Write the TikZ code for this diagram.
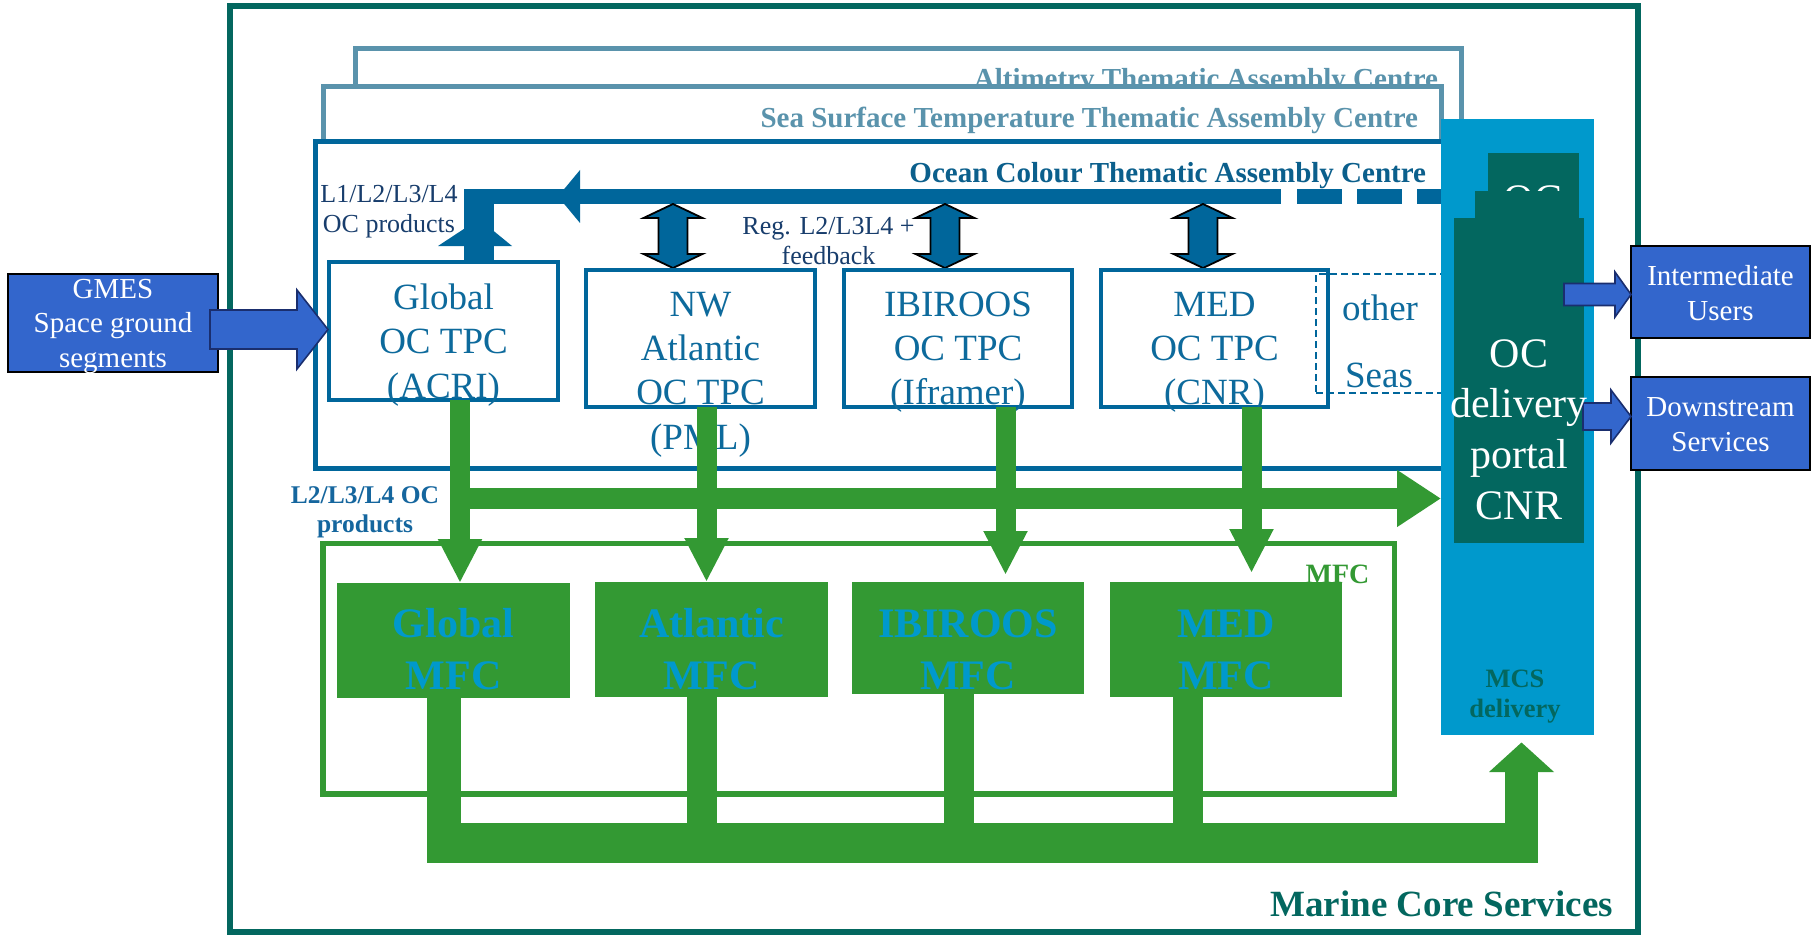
\documentclass[tikz,border=0pt]{standalone}
\usepackage{fontspec}
\setmainfont{Liberation Serif}
\usetikzlibrary{arrows.meta,calc}

\definecolor{mcsteal}{HTML}{03675F}
\definecolor{tacgrey}{HTML}{5A93AC}
\definecolor{ocblue}{HTML}{00669B}
\definecolor{octitle}{HTML}{0B5F8C}
\definecolor{tpctext}{HTML}{0D6A9C}
\definecolor{navytext}{HTML}{183D6C}
\definecolor{prodtext}{HTML}{15669E}
\definecolor{mfcgreen}{HTML}{339933}
\definecolor{mcscyan}{HTML}{0099CC}
\definecolor{royal}{HTML}{3366CC}
\definecolor{arrowedge}{HTML}{1A2E6E}

% centred stack of lines whose baseline is the first line
\newcommand\stk[1]{\begin{tabular}[t]{@{}c@{}}#1\end{tabular}}

% right-pointing block arrow: style, start, tip, shaft half-width, head half-width, head length
\newcommand\rblock[6]{%
  \path[#1] let \p1=#2, \p2=#3 in
    (\x1,{\y1+#4}) -- ({\x2-#6},{\y1+#4}) -- ({\x2-#6},{\y1+#5}) -- (\x2,\y1)
    -- ({\x2-#6},{\y1-#5}) -- ({\x2-#6},{\y1-#4}) -- (\x1,{\y1-#4}) -- cycle;}

% vertical double-headed block arrow: top, bottom, shaft half-width, head half-width, head length
\newcommand\vdouble[5]{%
  \path[dblarrow] let \p1=#1, \p2=#2 in
    (\x1,\y1) -- ({\x1+#4},{\y1-#5}) -- ({\x1+#3},{\y1-#5}) -- ({\x1+#3},{\y2+#5})
    -- ({\x1+#4},{\y2+#5}) -- (\x1,\y2) -- ({\x1-#4},{\y2+#5}) -- ({\x1-#3},{\y2+#5})
    -- ({\x1-#3},{\y1-#5}) -- ({\x1-#4},{\y1-#5}) -- cycle;}

\begin{document}
\begin{tikzpicture}[x=1pt,y=-1pt,
  txt/.style={inner sep=0pt, outer sep=0pt, anchor=base},
  titletxt/.style={txt, anchor=base east, font=\fontsize{29}{34}\selectfont\bfseries},
  tpcbox/.style={draw=ocblue, line width=4.5pt, fill=white, inner sep=0pt, outer sep=0pt},
  tpclabel/.style={txt, text=tpctext, font=\fontsize{37}{44.5}\selectfont},
  smalllabel/.style={txt, text=navytext, font=\fontsize{26}{30}\selectfont},
  mfcbox/.style={fill=mfcgreen, inner sep=0pt, outer sep=0pt},
  mfclabel/.style={txt, text=mcscyan, font=\fontsize{42}{52}\selectfont\bfseries},
  userbox/.style={fill=royal, draw=black, line width=2.5pt, inner sep=0pt, outer sep=0pt},
  userlabel/.style={txt, text=white, font=\fontsize{29}{35.5}\selectfont},
  greenarrow/.style={draw=mfcgreen, line width=20pt, -{Triangle[width=41pt,length=44pt]}},
  dblarrow/.style={fill=ocblue, draw=black, line width=1.8pt, line join=miter},
  userarrow/.style={fill=royal, draw=arrowedge, line width=1.6pt},
  portal/.style={fill=mcsteal, inner sep=0pt, outer sep=0pt}]

\useasboundingbox (0,0) rectangle (1815,936);

% Marine Core Services frame
\node[draw=mcsteal, line width=6pt, inner sep=0pt, minimum width=1408.5pt, minimum height=926pt] (mcsframe) at (933.75,469) {};
\node[txt, anchor=base east, text=mcsteal, font=\fontsize{37}{44}\selectfont\bfseries] (mcstitle) at (1613,916) {Marine Core Services};

% stacked thematic assembly centres
\node[draw=tacgrey, line width=5pt, fill=white, inner sep=0pt, minimum width=1106pt, minimum height=251pt] (alti) at (908.5,174.5) {};
\node[titletxt, text=tacgrey] (altititle) at (1438,89) {Altimetry Thematic Assembly Centre};
\node[draw=tacgrey, line width=5pt, fill=white, inner sep=0pt, minimum width=1118.5pt, minimum height=213pt] (sst) at (882.25,193.5) {};
\node[titletxt, text=tacgrey] (ssttitle) at (1418,128) {Sea Surface Temperature Thematic Assembly Centre};
\node[draw=ocblue, line width=5pt, fill=white, inner sep=0pt, minimum width=1204.5pt, minimum height=326.5pt] (octac) at (917.75,304.75) {};
\node[titletxt, text=octitle] (octitle) at (1426,183) {Ocean Colour Thematic Assembly Centre};

% OC product return line, solid then dashed towards the portal
\fill[ocblue] (464,189) rectangle (1281,204);
\fill[ocblue] (464,189) rectangle (494,262);
\fill[ocblue] (558,196.5) -- (580,170) -- (580,223) -- cycle;
\fill[ocblue] (438,246) -- (479,219) -- (512,246) -- cycle;
\fill[ocblue] (1297,189) rectangle (1342,204);
\fill[ocblue] (1357,189) rectangle (1402,204);
\fill[ocblue] (1417,189) rectangle (1448,204);

\node[smalllabel] (l1lab) at (389,203) {\stk{L1/L2/L3/L4\\OC products}};
\node[smalllabel] (reglab) at (828.5,235) {\stk{Reg. L2/L3L4 +\\feedback}};

% exchanges between the TAC line and the regional TPCs
\coordinate (dAt) at (673,204);  \coordinate (dAb) at (673,268);
\coordinate (dBt) at (945,204);  \coordinate (dBb) at (945,268);
\coordinate (dCt) at (1203,204); \coordinate (dCb) at (1203,268);
\vdouble{(dAt)}{(dAb)}{14.5pt}{29.5pt}{14pt}
\vdouble{(dBt)}{(dBb)}{14.5pt}{29.5pt}{14pt}
\vdouble{(dCt)}{(dCb)}{14.5pt}{29.5pt}{14pt}

% thematic production centres
\node[tpcbox, minimum width=229pt, minimum height=138pt] (tpcG) at (443.5,331) {};
\node[tpcbox, minimum width=229pt, minimum height=137pt] (tpcN) at (700.5,338.5) {};
\node[tpcbox, minimum width=228pt, minimum height=137pt] (tpcI) at (958,338.5) {};
\node[tpcbox, minimum width=227pt, minimum height=137pt] (tpcM) at (1214.5,338.5) {};
\node[draw=ocblue, line width=2pt, dash pattern=on 7pt off 4pt, inner sep=0pt, minimum width=127pt, minimum height=119pt] (others) at (1379.5,333.5) {};

\node[tpclabel] (tpcGlab) at (443.5,309) {\stk{Global\\OC TPC\\(ACRI)}};
\node[tpclabel] (tpcNlab) at (700.5,316) {\stk{NW\\Atlantic\\OC TPC\\(PML)}};
\node[tpclabel] (tpcIlab) at (958,316) {\stk{IBIROOS\\OC TPC\\(Iframer)}};
\node[tpclabel] (tpcMlab) at (1214.5,316) {\stk{MED\\OC TPC\\(CNR)}};
\node[tpclabel] (otherlab) at (1380,320) {other};
\node[tpclabel] (seaslab) at (1379,387) {Seas};

% model forecasting centres
\node[draw=mfcgreen, line width=5.5pt, inner sep=0pt, minimum width=1071.5pt, minimum height=250.5pt] (mfc) at (858.75,668.75) {};
\node[txt, text=mfcgreen, font=\fontsize{28}{32}\selectfont\bfseries] (mfclab) at (1337.5,583) {MFC};
\node[mfcbox, minimum width=233pt, minimum height=115pt] (mfcG) at (453.5,640.5) {};
\node[mfcbox, minimum width=233pt, minimum height=115pt] (mfcA) at (711.5,639.5) {};
\node[mfcbox, minimum width=232pt, minimum height=112pt] (mfcI) at (968,638) {};
\node[mfcbox, minimum width=232pt, minimum height=115pt] (mfcM) at (1226,639.5) {};
\node[mfclabel] (mfcGlab) at (453.5,637) {\stk{Global\\MFC}};
\node[mfclabel] (mfcAlab) at (711.5,637) {\stk{Atlantic\\MFC}};
\node[mfclabel] (mfcIlab) at (968,637) {\stk{IBIROOS\\MFC}};
\node[mfclabel] (mfcMlab) at (1226,637) {\stk{MED\\MFC}};

% OC products delivered to the MFCs and to the portal
\draw[greenarrow] ([xshift=16.5pt]tpcG.south) -- ([xshift=6.5pt]mfcG.north);
\draw[greenarrow] ([xshift=6pt]tpcN.south) -- ([xshift=-5pt]mfcA.north);
\draw[greenarrow] ([xshift=47.5pt]tpcI.south) -- ([xshift=37.5pt,yshift=7pt]mfcI.north);
\draw[greenarrow] ([xshift=37pt]tpcM.south) -- ([xshift=25.5pt,yshift=9pt]mfcM.north);

% MCS delivery column
\node[fill=mcscyan, inner sep=0pt, outer sep=0pt, minimum width=153pt, minimum height=616pt] (mcs) at (1517.5,427) {};
\node[txt, text=mcsteal, font=\fontsize{26.5}{30}\selectfont\bfseries] (mcslab) at (1515,687) {\stk{MCS\\delivery}};

\coordinate (hgStart) at (470,498.5);
\draw[draw=mfcgreen, line width=21pt, -{Triangle[width=54pt,length=44pt]}] (hgStart) -- (hgStart -| mcs.west);
\node[txt, text=prodtext, font=\fontsize{25.5}{29}\selectfont\bfseries] (prodlab) at (365,503) {\stk{L2/L3/L4 OC\\products}};

% MFC outputs gathered towards MCS delivery
\fill[mfcgreen] (427,698) rectangle (461,863);
\fill[mfcgreen] (687,697) rectangle (717,863);
\fill[mfcgreen] (944,694) rectangle (974,863);
\fill[mfcgreen] (1173,697) rectangle (1203,863);
\fill[mfcgreen] (427,823) rectangle (1538,863);
\fill[mfcgreen] (1505,771) rectangle (1538,863);
\fill[mfcgreen] (1489,772) -- (1521.5,742.5) -- (1554,772) -- cycle;

% OC delivery portal, drawn as a stack of sheets
\node[portal, minimum width=91pt, minimum height=87pt] (portalA) at (1533.5,196.5) {};
\node[txt, text=white, font=\fontsize{42}{50.7}\selectfont] (portalAlab) at (1533,214) {OC};
\node[portal, minimum width=104pt, minimum height=69pt] (portalB) at (1527,225.5) {};
\node[portal, minimum width=130pt, minimum height=325pt] (portalC) at (1519,380.5) {};

% users
\node[userbox, minimum width=179pt, minimum height=92pt] (intU) at (1720.5,292) {};
\node[userbox, minimum width=179pt, minimum height=93pt] (downS) at (1720.5,423.5) {};
\coordinate (iuStart) at (1564,294.5); \coordinate (iuTip) at (1631,294.5);
\coordinate (dsStart) at (1583,416.5); \coordinate (dsTip) at (1631,416.5);
\rblock{userarrow}{(iuStart)}{(iuTip)}{11pt}{22.5pt}{16pt}
\rblock{userarrow}{(dsStart)}{(dsTip)}{13.5pt}{26.5pt}{20pt}
\node[userlabel] (intUlab) at (1720.5,285) {\stk{Intermediate\\Users}};
\node[userlabel] (downSlab) at (1720.5,416) {\stk{Downstream\\Services}};

\node[txt, text=white, font=\fontsize{42}{50.7}\selectfont] (portallab) at (1519,367) {\stk{OC\\delivery\\portal\\CNR}};

% space segment input
\node[userbox, minimum width=210pt, minimum height=98pt] (gmes) at (113,323) {};
\coordinate (gmStart) at (210,329.5); \coordinate (gmTip) at (328,329.5);
\rblock{userarrow}{(gmStart)}{(gmTip)}{19.5pt}{39.5pt}{31pt}
\node[userlabel, font=\fontsize{29}{35}\selectfont] (gmeslab) at (113,298) {\stk{GMES\\Space ground\\segments}};

\end{tikzpicture}
\end{document}
